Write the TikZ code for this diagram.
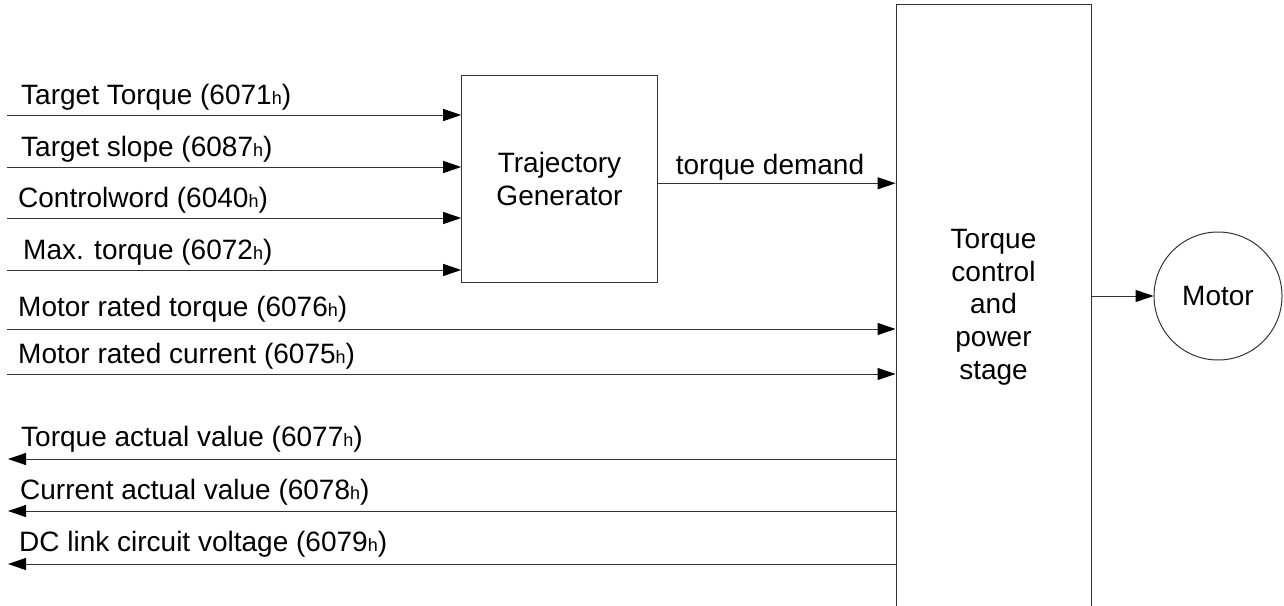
\documentclass[tikz,border=0pt]{standalone}
\usepackage{fontspec}
\setmainfont{Liberation Sans}
\usetikzlibrary{arrows.meta}
\newcommand{\subh}{{\fontsize{18}{18}\selectfont h}}
\begin{document}
\begin{tikzpicture}[x=1pt,y=-1pt,
  every node/.style={font=\fontsize{28}{32.7}\selectfont, inner sep=0pt},
  blk/.style={draw=black!80, line width=1pt},
  arr/.style={draw=black!80, line width=1pt, -{Triangle[length=18pt,width=12pt,black]}},
  lbl/.style={anchor=base west}]
\useasboundingbox (0,0) rectangle (1284,605);
\clip (0,0) rectangle (1284,605);
% blocks
\node[blk, minimum width=195.6pt, minimum height=207pt, align=center] (tg) at (559.5,179.2) {Trajectory\\Generator};
\node[blk, minimum width=195pt, minimum height=604.6pt, align=center] (tc) at (993.5,307) {Torque\\control\\and\\power\\stage};
\node[blk, circle, minimum size=128pt] (motor) at (1218,296) {Motor};
% input coordinates
\coordinate (i1) at (7,115);
\coordinate (i2) at (7,167);
\coordinate (i3) at (7,218);
\coordinate (i4) at (7,270);
\coordinate (i5) at (7,329);
\coordinate (i6) at (7,374);
\coordinate (o1) at (8,459);
\coordinate (o2) at (8,511);
\coordinate (o3) at (8,564);
\coordinate (td) at (700,183.3);
% connectors
\draw[arr] (i1) -- (i1 -| tg.west);
\draw[arr] (i2) -- (i2 -| tg.west);
\draw[arr] (i3) -- (i3 -| tg.west);
\draw[arr] (i4) -- (i4 -| tg.west);
\draw[arr] (i5) -- (i5 -| tc.west);
\draw[arr] (i6) -- (i6 -| tc.west);
\draw[arr] (o1 -| tc.west) -- (o1);
\draw[arr] (o2 -| tc.west) -- (o2);
\draw[arr] (o3 -| tc.west) -- (o3);
\draw[arr] (td -| tg.east) -- (td -| tc.west);
\draw[arr] (tc.east |- motor) -- (motor);
% labels
\node[lbl] (l1) at (21,104.5) {Target Torque (6071\subh)};
\node[lbl] (l2) at (21,156.7) {Target slope (6087\subh)};
\node[lbl] (l3) at (18,207.5) {Controlword (6040\subh)};
\node[lbl] (l4) at (23,259) {Max. torque (6072\subh)};
\node[lbl] (l5) at (18,316.7) {Motor rated torque (6076\subh)};
\node[lbl] (l6) at (18,363) {Motor rated current (6075\subh)};
\node[lbl] (l7) at (21,446.7) {Torque actual value (6077\subh)};
\node[lbl] (l8) at (20,499) {Current actual value (6078\subh)};
\node[lbl] (l9) at (19,551) {DC link circuit voltage (6079\subh)};
\node[anchor=base] (ltd) at (770,174.3) {torque demand};
\end{tikzpicture}
\end{document}
